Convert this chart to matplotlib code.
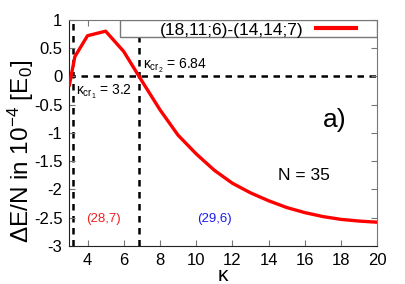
import matplotlib
matplotlib.use("Agg")
import matplotlib.pyplot as plt
from matplotlib.patches import Rectangle

plt.rcParams["font.family"] = ["Liberation Sans", "DejaVu Sans"]
plt.rcParams["mathtext.fontset"] = "custom"
plt.rcParams["mathtext.rm"] = "Liberation Sans"
plt.rcParams["mathtext.it"] = "Liberation Sans"

# curve
kappa = [3.0, 3.3, 4, 5, 6, 7, 8, 9, 10, 11, 12, 13, 14, 15, 16, 17, 18, 19, 20]
dE = [-0.15, 0.35, 0.72, 0.80, 0.44, -0.08, -0.59, -1.04, -1.37, -1.66, -1.89,
      -2.06, -2.20, -2.32, -2.41, -2.48, -2.53, -2.56, -2.58]
kappa_cr = [3.2, 6.84]
series_label = "(18,11;6)-(14,14;7)"
x_ticks = [4, 6, 8, 10, 12, 14, 16, 18, 20]
y_ticks = [1, 0.5, 0, -0.5, -1, -1.5, -2, -2.5, -3]
y_tick_labels = ["1", "0.5", "0", "-0.5", "-1", "-1.5", "-2", "-2.5", "-3"]

fig = plt.figure(figsize=(4.06, 2.84), dpi=100)
ax = fig.add_axes([0.171, 0.134, 0.758, 0.796])

dash = dict(color="black", linewidth=1.8, linestyle=(0, (2.6, 2.2)), zorder=1)
ax.axhline(0, **dash)
for k in kappa_cr:
    ax.axvline(k, **dash)

ax.plot(kappa, dE, color="#ff0000", linewidth=2.4, label=series_label, zorder=3)

ax.set_xlim(3, 20)
ax.set_ylim(-3, 1)
ax.set_xticks(x_ticks)
ax.set_yticks(y_ticks)
ax.set_yticklabels(y_tick_labels)
ax.tick_params(direction="in", length=4, width=0.8, labelsize=12,
               top=True, right=True, color="#777777", pad=5)
for side in ["top", "right"]:
    ax.spines[side].set_color("#777777")
for side in ["left", "bottom"]:
    ax.spines[side].set_color("#222222")

ax.set_xlabel(r"$\kappa$", fontsize=15, labelpad=-1)
ax.set_ylabel(r"$\Delta$E/N in 10$^{-4}$ [E$_0$]", fontsize=17.5)
ax.yaxis.set_label_coords(-0.11, 0.42)

# gnuplot style key box: wide white box hugging the top right corner
ax.add_patch(Rectangle((0.164, 0.926), 0.836, 0.074, transform=ax.transAxes,
                       facecolor="white", edgecolor="#777777", linewidth=1.0,
                       zorder=4))
leg = ax.legend(loc="upper right", bbox_to_anchor=(0.965, 1.035),
                frameon=False, markerfirst=False, fontsize=12.5,
                handlelength=2.3, borderpad=0.1, handletextpad=0.7)
leg.set_zorder(5)
leg.get_lines()[0].set_linewidth(3)

ax.text(3.35, -0.12, r"$\kappa_{\mathrm{cr}_1}$ = 3.2", fontsize=10, va="top")
ax.text(7.05, 0.18, r"$\kappa_{\mathrm{cr}_2}$ = 6.84", fontsize=10, va="center")
ax.text(17.0, -0.77, "a)", fontsize=19, va="center")
ax.text(14.5, -1.76, "N = 35", fontsize=12.5, va="center")
ax.text(3.9, -2.52, "(28,7)", fontsize=9.5, va="center", color="#ee2222")
ax.text(10.05, -2.52, "(29,6)", fontsize=9.5, va="center", color="#1a1aee")

fig.savefig("out.png", dpi=100)
